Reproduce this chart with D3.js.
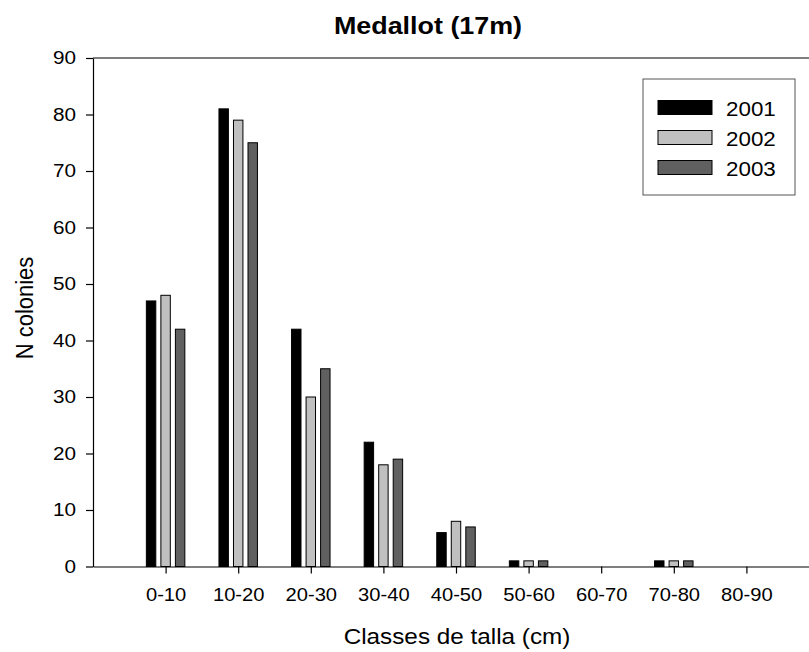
<!DOCTYPE html>
<html>
<head>
<meta charset="utf-8">
<script src="https://cdn.jsdelivr.net/npm/d3@7"></script>
<style>
  body { margin: 0; background: #fff; }
  svg { display: block; font-family: "Liberation Sans", Arial, sans-serif; }
</style>
</head>
<body>
<div class="chart"></div>
<script>
// Chart data
const categories = ['0-10', '10-20', '20-30', '30-40', '40-50', '50-60', '60-70', '70-80', '80-90'];
const years = ['2001', '2002', '2003'];
const values2001 = [47, 81, 42, 22, 6, 1, 0, 1, 0];
const values2002 = [48, 79, 30, 18, 8, 1, 0, 1, 0];
const values2003 = [42, 75, 35, 19, 7, 1, 0, 1, 0];
const yTicks = [0, 10, 20, 30, 40, 50, 60, 70, 80, 90];

const width = 809;
const height = 652;
const colors = ['#000000', '#c0c0c0', '#606060'];
// the reference text is a bit wider than it is tall
const sx = 1.12;

const svg = d3.select('.chart').append('svg')
  .attr('width', width)
  .attr('height', height);

// Scales: categories sit at 1..9 on a linear axis running 0..10
const x = d3.scaleLinear().domain([0, 10]).range([93, 819]);
const y = d3.scaleLinear().domain([0, 90]).range([566.5, 58]);

const series = [values2001, values2002, values2003];
const barWidth = 0.13;
const barStep = 0.2;

// Bars
series.forEach((vals, s) => {
  const data = vals.map((v, i) => ({ i: i + 1, v })).filter(d => d.v > 0);
  svg.append('g')
    .selectAll('rect')
    .data(data)
    .enter().append('rect')
    .attr('x', d => x(d.i + (s - 1) * barStep - barWidth / 2))
    .attr('y', d => y(d.v))
    .attr('width', x(barWidth) - x(0))
    .attr('height', d => y(0) - y(d.v))
    .attr('fill', colors[s])
    .attr('stroke', '#000')
    .attr('stroke-width', 1);
});

// X axis
const xAxis = d3.axisBottom(x)
  .tickValues(d3.range(1, categories.length + 1))
  .tickFormat(d => categories[d - 1])
  .tickSize(7)
  .tickPadding(15)
  .tickSizeOuter(0);

const gx = svg.append('g')
  .attr('transform', `translate(0, ${y(0)})`)
  .call(xAxis);
gx.selectAll('text')
  .attr('font-size', 18)
  .attr('fill', '#000')
  .attr('transform', `scale(${sx},1)`);

// Y axis
const yAxis = d3.axisLeft(y)
  .tickValues(yTicks)
  .tickSize(7)
  .tickSizeOuter(0);

const gy = svg.append('g')
  .attr('transform', `translate(${x(0)}, 0)`)
  .call(yAxis);
gy.selectAll('text')
  .attr('font-size', 18.5)
  .attr('fill', '#000')
  .attr('x', -17 / sx)
  .attr('transform', `scale(${sx},1)`);

svg.selectAll('.domain, .tick line')
  .attr('stroke', '#000')
  .attr('stroke-width', 1.2);

// Top frame line
svg.append('line')
  .attr('x1', x(0)).attr('x2', width)
  .attr('y1', y(90)).attr('y2', y(90))
  .attr('stroke', '#000')
  .attr('stroke-width', 1.2);

// Title
svg.append('text')
  .attr('transform', `translate(428, 33.5) scale(${sx},1)`)
  .attr('text-anchor', 'middle')
  .attr('font-size', 24)
  .attr('font-weight', 'bold')
  .text('Medallot (17m)');

// Axis labels
svg.append('text')
  .attr('transform', `translate(457, 644) scale(${sx},1)`)
  .attr('text-anchor', 'middle')
  .attr('font-size', 21.7)
  .text('Classes de talla (cm)');

svg.append('text')
  .attr('transform', `translate(33, 308) scale(${sx},1) rotate(-90)`)
  .attr('text-anchor', 'middle')
  .attr('font-size', 22)
  .text('N colonies');

// Legend
const legend = svg.append('g');
legend.append('rect')
  .attr('x', 643).attr('y', 79)
  .attr('width', 152).attr('height', 116)
  .attr('fill', '#fff')
  .attr('stroke', '#555')
  .attr('stroke-width', 1);

years.forEach((yr, s) => {
  const cy = 107.5 + s * 30;
  legend.append('rect')
    .attr('x', 658).attr('y', cy - 7)
    .attr('width', 54).attr('height', 14)
    .attr('fill', colors[s])
    .attr('stroke', '#000')
    .attr('stroke-width', 1);
  legend.append('text')
    .attr('transform', `translate(726, ${cy + 8}) scale(${sx},1)`)
    .attr('font-size', 20)
    .text(yr);
});
</script>
</body>
</html>
